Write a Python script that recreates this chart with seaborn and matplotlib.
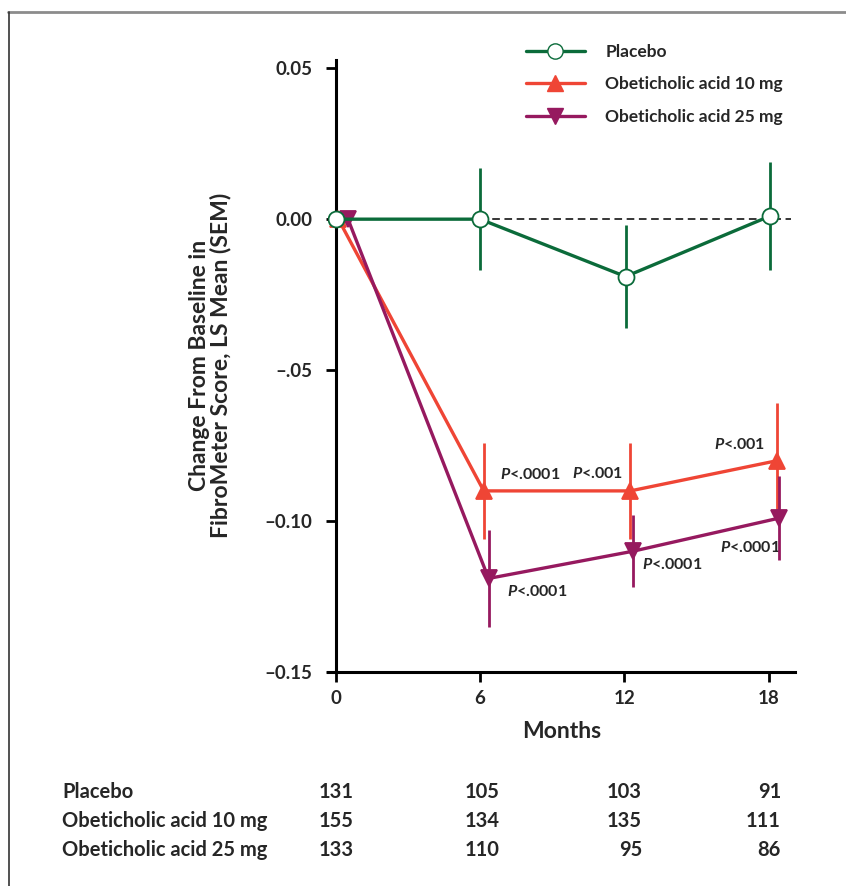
import numpy as np
import pandas as pd
import seaborn as sns
import matplotlib.pyplot as plt
from matplotlib.lines import Line2D

# Data
months = [0, 6, 12, 18]
groups = ["Placebo", "Obeticholic acid 10 mg", "Obeticholic acid 25 mg"]
placebo_mean = [0.0, 0.0, -0.019, 0.001]
placebo_sem = [0.0, 0.017, 0.017, 0.018]
oca10_mean = [0.0, -0.090, -0.090, -0.080]
oca10_sem = [0.0, 0.016, 0.016, 0.019]
oca25_mean = [0.0, -0.119, -0.110, -0.099]
oca25_sem = [0.0, 0.016, 0.012, 0.014]

n_placebo = [131, 105, 103, 91]
n_oca10 = [155, 134, 135, 111]
n_oca25 = [133, 110, 95, 86]

p_oca10 = ["<.0001", "<.001", "<.001"]
p_oca25 = ["<.0001", "<.0001", "<.0001"]

sns.set_theme(style="white")
plt.rcParams["font.family"] = ["Lato", "DejaVu Sans"]
plt.rcParams["font.weight"] = "bold"
plt.rcParams["mathtext.fontset"] = "custom"
plt.rcParams["mathtext.it"] = "Lato:italic:bold"
plt.rcParams["mathtext.rm"] = "Lato:bold"

colors = {"Placebo": "#0b6b3a",
          "Obeticholic acid 10 mg": "#ef4535",
          "Obeticholic acid 25 mg": "#96195f"}
markers = {"Placebo": "o", "Obeticholic acid 10 mg": "^", "Obeticholic acid 25 mg": "v"}
shift = {"Placebo": [0, 0, 0.05, 0.05],
         "Obeticholic acid 10 mg": [0.1, 0.15, 0.25, 0.35],
         "Obeticholic acid 25 mg": [0.5, 0.35, 0.35, 0.45]}

rows = []
for g, m, s in zip(groups, [placebo_mean, oca10_mean, oca25_mean],
                   [placebo_sem, oca10_sem, oca25_sem]):
    for i, mo in enumerate(months):
        rows.append({"group": g, "month": mo + shift[g][i], "mean": m[i], "sem": s[i]})
df = pd.DataFrame(rows)

fig = plt.figure(figsize=(8.46, 8.86), dpi=100)
ax = fig.add_axes([0.3872, 0.2415, 0.5525, 0.6907])

# reference line
ax.plot([6, 18.95], [0, 0], color="black", lw=1.1, ls=(0, (5, 3)), zorder=1)

draw_order = ["Obeticholic acid 10 mg", "Obeticholic acid 25 mg", "Placebo"]
for z, g in enumerate(draw_order):
    d = df[df["group"] == g]
    c = colors[g]
    ax.vlines(d["month"], d["mean"] - d["sem"], d["mean"] + d["sem"],
              color=c, lw=2.0, zorder=2 + 2 * z)
    sns.lineplot(data=d, x="month", y="mean", ax=ax, color=c, lw=2.4,
                 marker=markers[g], markersize=11 if g != "Placebo" else 11.5,
                 markerfacecolor="white" if g == "Placebo" else c,
                 markeredgecolor=c, markeredgewidth=1.3,
                 zorder=3 + 2 * z, legend=False)

# P values
p_style = dict(fontsize=11.5, fontweight="bold", va="center", ha="left")
for txt, (x, y) in zip(p_oca10, [(6.83, -0.0846), (9.83, -0.0842), (15.71, -0.0746)]):
    ax.text(x, y, "$P$" + txt, **p_style)
for txt, (x, y) in zip(p_oca25, [(7.13, -0.1233), (12.75, -0.1144), (15.96, -0.1088)]):
    ax.text(x, y, "$P$" + txt, **p_style)

ax.set_xlim(-0.35, 19.1)
ax.set_ylim(-0.15, 0.0527)
ax.set_xticks(months)
ax.set_xticklabels([str(m) for m in months])
ax.set_yticks([-0.15, -0.10, -0.05, 0.0, 0.05])
ax.set_yticklabels(["\u20130.15", "\u20130.10", "\u2013.05", "0.00", "0.05"])
ax.tick_params(axis="both", direction="out", length=7, width=2, labelsize=13.5,
               color="black", bottom=True, left=True, pad=6)
ax.tick_params(axis="y", pad=10)
for lab in ax.get_xticklabels() + ax.get_yticklabels():
    lab.set_fontweight("bold")
ax.spines["top"].set_visible(False)
ax.spines["right"].set_visible(False)
ax.spines["left"].set_position(("data", 0))
for sp in ["left", "bottom"]:
    ax.spines[sp].set_linewidth(2.2)
    ax.spines[sp].set_color("black")
ax.set_xlabel("Months", fontsize=16.5, fontweight="bold", labelpad=10)
ax.set_ylabel("")

fig.text(210 / 846, 1 - 365 / 886,
         "Change From Baseline in\nFibroMeter Score, LS Mean (SEM)",
         rotation=90, ha="center", va="center", multialignment="center",
         fontsize=16.5, fontweight="bold", linespacing=1.0)

# legend
handles = [Line2D([], [], color=colors[g], lw=2.4, marker=markers[g], markersize=11,
                  markerfacecolor="white" if g == "Placebo" else colors[g],
                  markeredgecolor=colors[g]) for g in groups]
leg = ax.legend(handles, groups, loc="upper left", bbox_to_anchor=(510 / 846, 1 - 28 / 886),
                bbox_transform=fig.transFigure, frameon=False, handlelength=3.4,
                handletextpad=1.2, labelspacing=0.95, prop={"size": 12.5, "weight": "bold"})

# numbers at risk table
row_y = [792, 821, 850]
col_x = [354, 500, 642, 781]
for g, n, yy in zip(groups, [n_placebo, n_oca10, n_oca25], row_y):
    fig.text(62 / 846, 1 - yy / 886, g, fontsize=14.5, fontweight="bold", va="center", ha="left")
    for v, xx in zip(n, col_x):
        fig.text(xx / 846, 1 - yy / 886, str(v), fontsize=14.5, fontweight="bold",
                 va="center", ha="right")

# panel border (top and left edges)
fig.add_artist(Line2D([8 / 846, 1], [1 - 12 / 886] * 2, color="#8c8c8c", lw=2,
                      transform=fig.transFigure))
fig.add_artist(Line2D([9 / 846] * 2, [0, 1 - 12 / 886], color="#333333", lw=1.2,
                      transform=fig.transFigure))

fig.savefig("out.png", dpi=100)
